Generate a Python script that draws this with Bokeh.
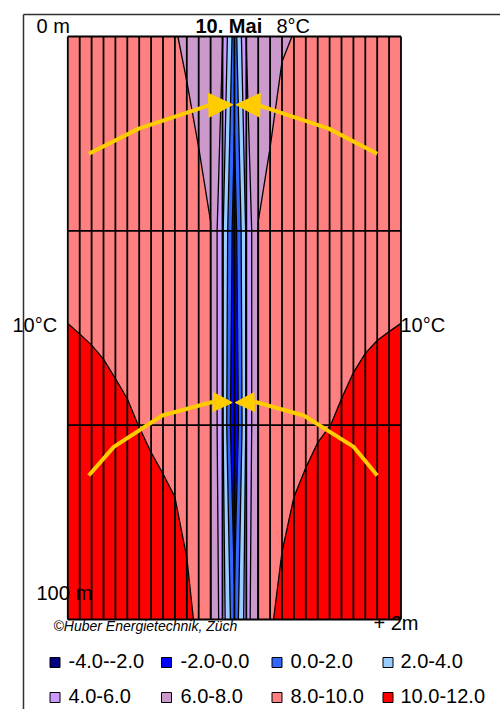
import numpy as np
from bokeh.plotting import figure
from bokeh.models import Range1d, Arrow, NormalHead
from bokeh.core.properties import value
from bokeh.embed import file_html
from bokeh.resources import INLINE

# ---------------- data ----------------
# 29 equally spaced horizontal positions (m) from -2 m to +2 m around the borehole
offset_m = [round(-2 + i * 4 / 28, 4) for i in range(29)]
depth_m = [0.0, 33.33, 66.67, 100.0]

temp_0m = [8.1, 8.1, 8.1, 8.1, 8.1, 8.1, 8.1, 8.1, 8.1, 8.1,
           7.7, 7.4, 7.0, 6.1, 1.0, 6.1, 7.0, 7.4, 7.85, 8.03,
           8.1, 8.1, 8.1, 8.1, 8.1, 8.1, 8.1, 8.1, 8.1]
temp_33m = [9.3, 9.3, 9.3, 9.3, 9.3, 9.3, 9.3, 9.3, 9.3,
            9.2, 9.0, 8.45, 8.05, 4.3, -1.0, 4.3, 8.05, 8.45, 9.0, 9.2,
            9.3, 9.3, 9.3, 9.3, 9.3, 9.3, 9.3, 9.3, 9.3]
temp_67m = [10.77, 10.62, 10.49, 10.36, 10.22, 10.11, 9.99, 9.85, 9.75, 9.6,
            9.4, 9.1, 8.05, 4.3, -2.2, 4.3, 8.05, 9.1, 9.4, 9.6,
            9.75, 9.85, 9.99, 10.11, 10.26, 10.41, 10.54, 10.65, 10.77]
temp_100m = [11.9, 11.8, 11.7, 11.6, 11.4, 11.2, 11.0, 10.92, 10.75, 10.68,
             10.28, 9.78, 8.1, 5.0, 0.5, 5.0, 8.1, 9.87, 10.32, 10.68,
             10.89, 11.52, 11.55, 11.6, 11.65, 11.7, 11.8, 11.85, 11.9]

levels = [-4, -2, 0, 2, 4, 6, 8, 10, 12]
band_labels = ["-4.0--2.0", "-2.0-0.0", "0.0-2.0", "2.0-4.0",
               "4.0-6.0", "6.0-8.0", "8.0-10.0", "10.0-12.0"]
band_colors = ["#000080", "#0000FF", "#3366FF", "#99CCFF",
               "#CC99FF", "#CC99CC", "#FF8080", "#FF0000"]

# heat-flow arrows (offset m, depth m)
arrow_ul_x = [-1.748, -1.148, -0.307]
arrow_ul_d = [20.1, 15.8, 11.8]
arrow_ur_x = [1.714, 1.133, 0.293]
arrow_ur_d = [20.1, 15.8, 11.8]
arrow_ll_x = [-1.748, -1.448, -0.867, -0.267]
arrow_ll_d = [75.3, 70.4, 65.0, 62.7]
arrow_lr_x = [1.714, 1.433, 0.833, 0.253]
arrow_lr_d = [75.3, 70.4, 65.0, 62.7]
arrow_tip_x = [-0.02, 0.02, -0.026, 0.01]
arrow_tip_d = [11.7, 11.7, 62.8, 62.8]

# ---------------- layout ----------------
W, H = 500, 709
PAGE = 0
PL, PR, PT, PB = 67.3, 400.5, 36.0, 619.0   # plot area in page pixels
PXM = (PR - PL) / 4.0
PYM = (PB - PT) / 100.0


def px2x(px):
    return -2 + (px - PL) / PXM


def py2d(py):
    return (py - PT) / PYM


p = figure(width=W, height=H, output_backend="svg", toolbar_location=None,
           x_axis_type=None, y_axis_type=None,
           x_range=Range1d(px2x(PAGE), px2x(PAGE + W)),
           y_range=Range1d(py2d(PAGE + H), py2d(PAGE)),
           min_border=0, min_border_left=0, min_border_right=0,
           min_border_top=0, min_border_bottom=0)
p.outline_line_color = None
p.background_fill_color = "white"
p.border_fill_color = "white"

Z = np.array([temp_0m, temp_33m, temp_67m, temp_100m])
p.contour(np.array(offset_m), np.array(depth_m), Z, levels,
          fill_color=band_colors, line_color="black", line_width=1.3)

# gridlines
p.segment(x0=offset_m, y0=[depth_m[0]] * len(offset_m), x1=offset_m,
          y1=[depth_m[-1]] * len(offset_m), line_color="black", line_width=1.8)
p.segment(x0=[offset_m[0]] * 4, y0=depth_m, x1=[offset_m[-1]] * 4, y1=depth_m,
          line_color="black", line_width=1.8)

# chart area border (left and top)
p.segment(x0=[px2x(23), px2x(23)], y0=[py2d(14), py2d(14)],
          x1=[px2x(23), px2x(520)], y1=[py2d(720), py2d(14)],
          line_color="#303030", line_width=1.5)

# arrows
YEL = "#FFCC00"
for xs, ds, tx, td, sz in [(arrow_ul_x, arrow_ul_d, arrow_tip_x[0], arrow_tip_d[0], 24),
                           (arrow_ur_x, arrow_ur_d, arrow_tip_x[1], arrow_tip_d[1], 24),
                           (arrow_ll_x, arrow_ll_d, arrow_tip_x[2], arrow_tip_d[2], 19),
                           (arrow_lr_x, arrow_lr_d, arrow_tip_x[3], arrow_tip_d[3], 19)]:
    p.line(xs, ds, line_color=YEL, line_width=4, line_join="round")
    p.add_layout(Arrow(x_start=xs[-1], y_start=ds[-1], x_end=tx, y_end=td,
                       line_color=YEL, line_width=4,
                       end=NormalHead(size=sz, fill_color=YEL, line_color=YEL, line_width=1)))

FONT = value("Liberation Sans")


def label(px, py, txt, size=20, style="normal"):
    shift = -0.4 * size
    p.text(x=[px2x(px)], y=[py2d(py + shift)], text=[txt], text_font=FONT,
           text_font_size=f"{size}px", text_font_style=style, text_color="black",
           text_baseline="alphabetic", text_align="left")


label(36, 33, "0 m")
label(195, 33, "10. Mai", style="bold")
label(276, 33, "8°C")
label(12, 332, "10°C")
label(400, 332, "10°C")
label(36, 600, "100 m")
label(373, 630, "+ 2m")
label(53, 631, "©Huber Energietechnik, Züch", size=14, style="italic")

# legend
leg_px = [54.5, 166, 276.5, 387.5]
leg_py = [662, 697]
leg_tx = [68, 180, 290, 400]
leg_base = [668, 703]
for i in range(8):
    r, c = divmod(i, 4)
    p.scatter([px2x(leg_px[c])], [py2d(leg_py[r])], marker="square", size=10,
              fill_color=band_colors[i], line_color="black", line_width=1)
    label(leg_tx[c], leg_base[r], band_labels[i])

open("out.html", "w").write(file_html(p, INLINE))
